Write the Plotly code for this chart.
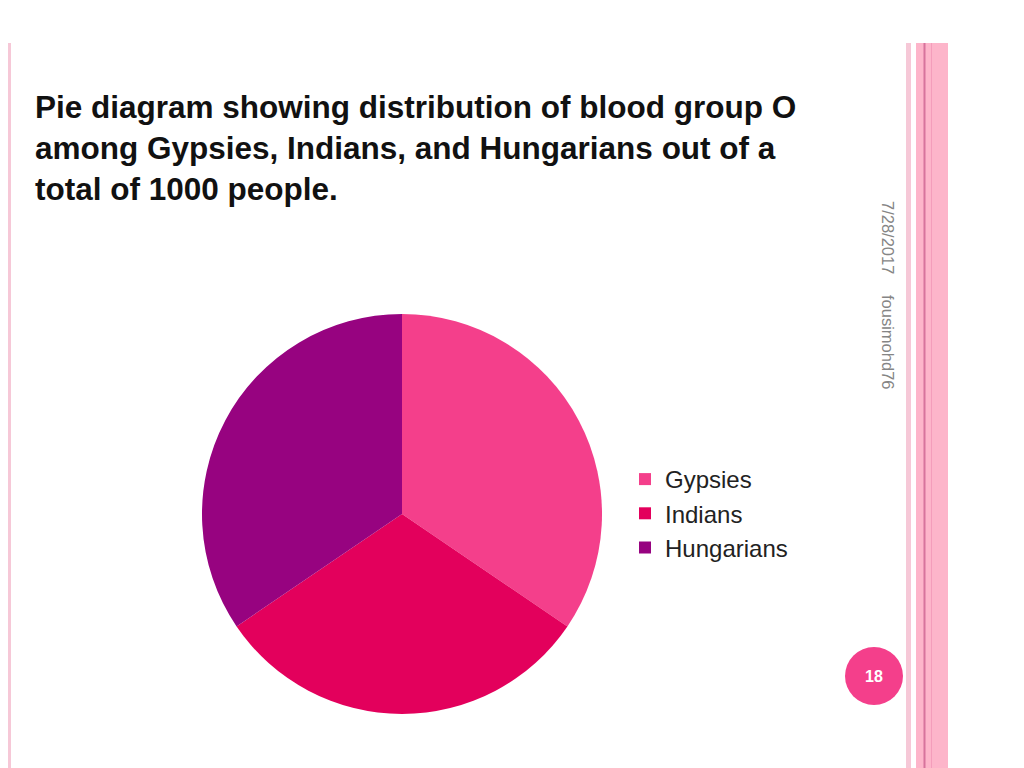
import plotly.graph_objects as go

# blood group O counts out of 1000 people
groups = ['Gypsies', 'Indians', 'Hungarians']
counts = [345, 310, 345]
colors = ['#F43F8B', '#E3005C', '#970380']

W, H = 1024, 768
OFF = 8  # page body margin


def px(x):
    return (x - OFF) / W


def py(y):
    return 1 - (y - OFF) / H


fig = go.Figure()

fig.add_trace(
    go.Pie(
        labels=groups,
        values=counts,
        sort=False,
        direction='clockwise',
        rotation=0,
        textinfo='none',
        hoverinfo='label+value+percent',
        marker=dict(colors=colors, line=dict(width=0)),
        domain=dict(x=[px(202), px(602)], y=[py(714), py(314)]),
    )
)

shapes = [
    # left border
    dict(type='rect', x0=px(6), x1=px(11), y0=py(800), y1=py(43),
         fillcolor='#F6C8D7', line=dict(width=0)),
    # right borders
    dict(type='rect', x0=px(906), x1=px(911), y0=py(800), y1=py(43),
         fillcolor='#F6C8D7', line=dict(width=0)),
    dict(type='rect', x0=px(916), x1=px(948), y0=py(800), y1=py(43),
         fillcolor='#FDB5CA', line=dict(width=0)),
    dict(type='rect', x0=px(923.5), x1=px(925.5), y0=py(800), y1=py(43),
         fillcolor='#D7739C', line=dict(width=0)),
    dict(type='rect', x0=px(931), x1=px(932), y0=py(800), y1=py(43),
         fillcolor='#F49DBB', line=dict(width=0)),
    # page number circle
    dict(type='circle', x0=px(845), x1=px(903), y0=py(705), y1=py(647),
         fillcolor='#F43F8B', line=dict(width=0)),
]

annotations = [
    dict(text='Pie diagram showing distribution of blood group O<br>'
              'among Gypsies, Indians, and Hungarians out of a<br>'
              'total of 1000 people.',
         x=px(33), y=py(87), xanchor='left', yanchor='top', align='left',
         showarrow=False,
         font=dict(family='Liberation Sans', size=31.5, color='#111111', weight='bold')),
    dict(text='7/28/2017', textangle=90, x=px(888), y=py(237),
         xanchor='center', yanchor='middle', showarrow=False,
         font=dict(family='Liberation Sans', size=16.5, color='#858585')),
    dict(text='fousimohd76', textangle=90, x=px(888), y=py(342),
         xanchor='center', yanchor='middle', showarrow=False,
         font=dict(family='Liberation Sans', size=16.5, color='#858585')),
    dict(text='<b>18</b>', x=px(874), y=py(676), xanchor='center', yanchor='middle',
         showarrow=False,
         font=dict(family='Liberation Sans', size=16, color='white')),
]

fig.update_layout(
    width=W,
    height=H,
    margin=dict(l=0, r=0, t=0, b=0),
    paper_bgcolor='white',
    plot_bgcolor='white',
    shapes=shapes,
    annotations=annotations,
    showlegend=True,
    legend=dict(
        x=px(625), y=py(457), xanchor='left', yanchor='top',
        font=dict(family='Liberation Sans', size=24, color='#222222'),
        itemsizing='constant',
        bgcolor='rgba(0,0,0,0)',
    ),
)

fig.write_html('out.html')
